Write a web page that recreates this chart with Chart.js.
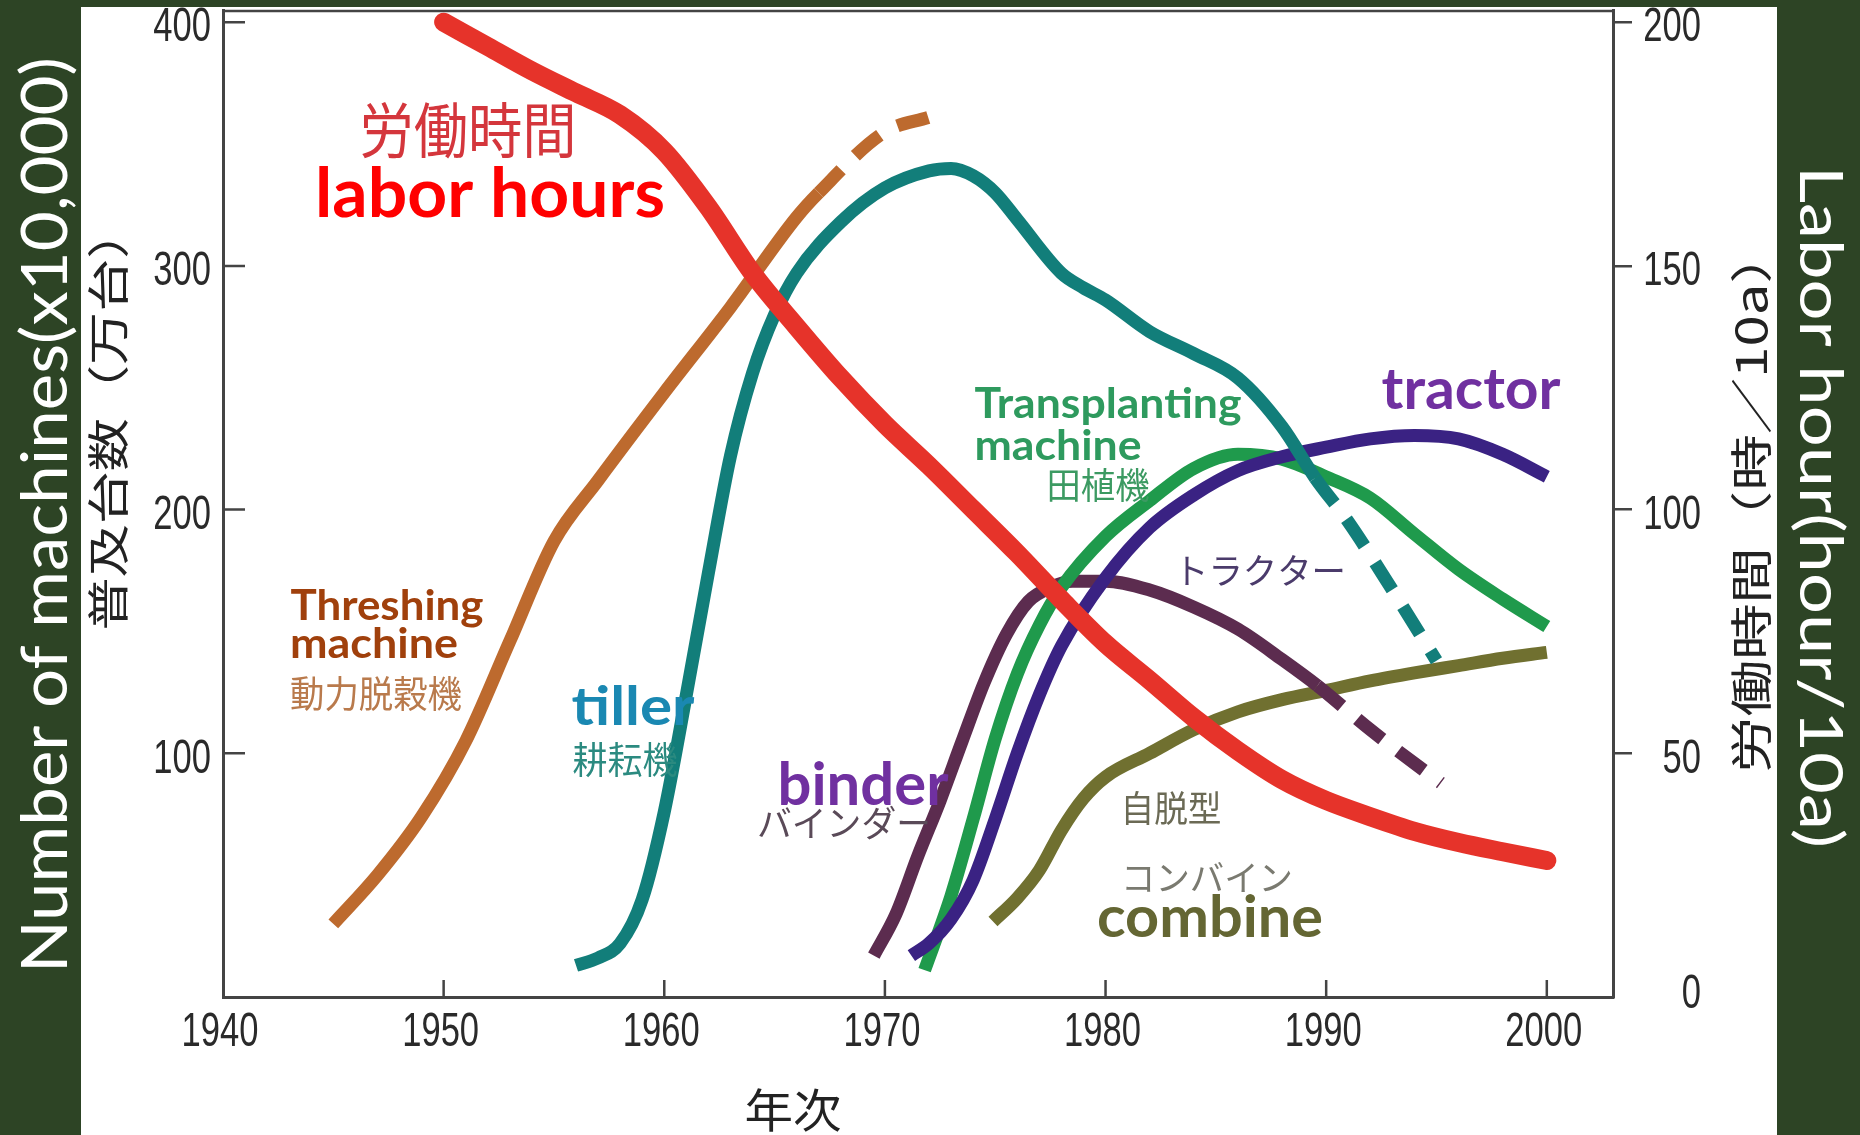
<!DOCTYPE html>
<html>
<head>
<meta charset="utf-8">
<title>Machines and labor hours</title>
<script src="https://cdn.jsdelivr.net/npm/chart.js@4.4.1/dist/chart.umd.min.js"></script>
<style>
body { margin: 0; background: #2d4425; overflow: hidden; }
canvas { display: block; }
</style>
</head>
<body>
<canvas id="mycanvas" width="1860" height="1135"></canvas>
<script>
// tick values
var xTicks = [1940, 1950, 1960, 1970, 1980, 1990, 2000];
var leftTicks = [100, 200, 300, 400];
var rightTicks = [0, 50, 100, 150, 200];

// labor hours (hour/10a), right axis
var laborYears = [1950, 1952, 1954, 1956, 1958, 1960, 1962, 1964, 1966, 1968, 1970, 1972, 1974, 1976, 1978, 1980, 1982, 1984, 1986, 1988, 1990, 1992, 1994, 1996, 1998, 2000];
var laborHours = [200, 195, 190, 185.5, 181, 173.5, 162, 148.5, 137.5, 127, 117.5, 109, 100, 91, 81.5, 72.5, 65, 57.3, 50.5, 44.6, 40.3, 37, 34, 31.7, 29.8, 28];

// machines (x10,000 units), left axis
var threshYears = [1945, 1947, 1949, 1951, 1953, 1955, 1957, 1960, 1963, 1966, 1967, 1970, 1972];
var threshCount = [30, 50, 74, 105, 146, 187, 212, 248, 283, 320, 330, 355, 361];
var threshDashFrom = 1967;

var tillerYears = [1956, 1957, 1958, 1959, 1960, 1961, 1962, 1963, 1964, 1965, 1966, 1968, 1970, 1972, 1973, 1974, 1975, 1976, 1978, 1979, 1980, 1982, 1984, 1986, 1988, 1989.5, 1991, 1993, 1995];
var tillerCount = [13, 16, 22, 40, 76, 124, 174, 222, 256, 280, 297, 318, 332, 339, 340, 337, 330, 319, 297, 291, 286, 273, 264, 254, 234, 213, 195, 167, 138];
var tillerDashFrom = 1989.5;

var binderYears = [1969.5, 1970.5, 1971.5, 1972.5, 1973.5, 1974.5, 1975.5, 1976.5, 1977.5, 1978.5, 1980, 1982, 1984, 1986, 1988, 1989.6, 1992, 1995.2];
var binderCount = [17, 34, 58, 80.5, 105, 129, 148.7, 162.3, 168, 170.6, 170.6, 167, 160, 151, 138.5, 127.8, 109.7, 87.8];
var binderDashFrom = 1989.6;

var transplantYears = [1971.8, 1973, 1974, 1975, 1976, 1977, 1978, 1980, 1982, 1984, 1986, 1988, 1990, 1992, 1994, 1996, 1998, 2000];
var transplantCount = [11, 41.6, 73, 106, 132.6, 152.6, 168, 189, 203.7, 216.9, 222.7, 220.7, 213.4, 204.7, 190, 175.5, 163.3, 152];

var tractorYears = [1971.2, 1972, 1973, 1974, 1975, 1976, 1977, 1978, 1980, 1982, 1984, 1986, 1988, 1990, 1992, 1994, 1996, 1998, 2000];
var tractorCount = [17, 22, 32, 48, 73, 100, 124, 144, 172, 192.6, 206, 216, 221.7, 225.6, 229, 230.4, 229, 222.7, 213.5];

var combineYears = [1974.9, 1976, 1977, 1978, 1979, 1980, 1982, 1984, 1986, 1988, 1990, 1992, 1994, 1996, 1998, 2000];
var combineCount = [31, 40.6, 52, 68.4, 81.5, 90.3, 100, 109.7, 117, 122, 125.8, 129.7, 133, 136, 139, 141.4];

function pts(xs, ys) {
	return xs.map(function(x, i){ return {x: x, y: ys[i]}; });
}
function dashAfter(from) {
	return function(c){ return c.p0.parsed.x >= from - 0.001 ? [32, 20] : undefined; };
}

var cjk = '"Noto Sans CJK JP"';

function fitText(ctx, txt, x, y, w, font, color, rot, base) {
	ctx.save();
	ctx.font = font;
	var m = ctx.measureText(txt).width;
	ctx.translate(x, y);
	if (rot) ctx.rotate(rot);
	ctx.scale(w / m, 1);
	ctx.fillStyle = color;
	ctx.textAlign = 'center';
	ctx.textBaseline = base || 'middle';
	ctx.fillText(txt, 0, 0);
	ctx.restore();
}

// condensed tick label, taken from the scale's own ticks
function tickText(ctx, txt, x, y, align) {
	ctx.save();
	ctx.translate(x, y);
	ctx.scale(0.72, 1);
	ctx.textAlign = align;
	ctx.fillText(txt, 0, 0);
	ctx.restore();
}

var notes = [
	['労働時間', 468, 130, 217, '400 60px ' + cjk, '#d4363c', 'middle'],
	['labor hours', 490, 217, 350, '700 68px Lato', '#ff0000', 'alphabetic'],
	['Threshing', 387, 620, 193, '700 42px Lato', '#a0400c', 'alphabetic'],
	['machine', 374, 658, 168, '700 42px Lato', '#a0400c', 'alphabetic'],
	['動力脱穀機', 376, 694, 172, '400 37px ' + cjk, '#b97a4c', 'middle'],
	['tiller', 633, 725, 123, '700 54px Lato', '#1a88b2', 'alphabetic'],
	['耕耘機', 625, 760, 105, '400 37px ' + cjk, '#2b8a80', 'middle'],
	['binder', 863, 805, 171, '700 60px Lato', '#7030a0', 'alphabetic'],
	['バインダー', 844, 823, 174, '400 36px ' + cjk, '#5a4a58', 'middle'],
	['Transplanting', 1108, 418, 267, '700 42px Lato', '#2e9a5e', 'alphabetic'],
	['machine', 1058, 460, 167, '700 42px Lato', '#2e9a5e', 'alphabetic'],
	['田植機', 1098, 485, 103, '400 36px ' + cjk, '#3c9a62', 'middle'],
	['tractor', 1471, 409, 179, '700 58px Lato', '#7030a0', 'alphabetic'],
	['トラクター', 1260, 571, 172, '400 35px ' + cjk, '#4b3b6b', 'middle'],
	['自脱型', 1171, 808, 101, '400 36px ' + cjk, '#6b6a55', 'middle'],
	['コンバイン', 1207, 878, 172, '400 35px ' + cjk, '#7a7a70', 'middle'],
	['combine', 1210, 937, 226, '700 58px Lato', '#646633', 'alphabetic']
];

var decor = {
	id: 'decor',
	beforeDraw: function(chart){
		var ctx = chart.ctx;
		ctx.save();
		ctx.fillStyle = '#2d4425';
		ctx.fillRect(0, 0, chart.width, chart.height);
		ctx.fillStyle = '#ffffff';
		ctx.fillRect(81, 7, 1696, 1128);
		ctx.restore();
	},
	afterDraw: function(chart){
		var ctx = chart.ctx, a = chart.chartArea;
		var xs = chart.scales.x, ys = chart.scales.y, ys2 = chart.scales.y2;
		ctx.save();
		ctx.strokeStyle = '#444';
		ctx.lineWidth = 2.5;
		ctx.beginPath();
		ctx.moveTo(a.left, a.top + 1);
		ctx.lineTo(a.right, a.top + 1);
		ys.ticks.forEach(function(t){
			var py = ys.getPixelForValue(t.value);
			ctx.moveTo(a.left, py);
			ctx.lineTo(a.left + 22, py);
		});
		xs.ticks.forEach(function(t){
			if (t.value === xs.min) return;
			var px = xs.getPixelForValue(t.value);
			ctx.moveTo(px, a.bottom);
			ctx.lineTo(px, a.bottom - 17);
		});
		ctx.stroke();

		ctx.font = '48px "Liberation Sans", Arial, sans-serif';
		ctx.fillStyle = '#2a2a2a';
		ctx.textBaseline = 'middle';
		xs.ticks.forEach(function(t){
			tickText(ctx, t.label, xs.getPixelForValue(t.value) - 3, a.bottom + 36, 'center');
		});
		ys.ticks.forEach(function(t){
			tickText(ctx, t.label, a.left - 12, ys.getPixelForValue(t.value) + 6, 'right');
		});
		ys2.ticks.forEach(function(t){
			tickText(ctx, t.label, a.right + 88, ys2.getPixelForValue(t.value) + (t.value === 0 ? -2 : 6), 'right');
		});
		ctx.restore();

		notes.forEach(function(n){
			fitText(ctx, n[0], n[1], n[2], n[3], n[4], n[5], 0, n[6]);
		});
		// axis titles
		fitText(ctx, 'Number of machines(x10,000)', 67, 515, 916, '400 64px Lato', '#ffffff', -Math.PI / 2, 'alphabetic');
		fitText(ctx, 'Labor hour(hour/10a)', 1800, 507, 682, '400 60px Lato', '#ffffff', Math.PI / 2, 'alphabetic');
		fitText(ctx, '普及台数（万台）', 108, 418, 425, '400 42px ' + cjk, '#222', -Math.PI / 2, 'middle');
		fitText(ctx, '労働時間（時／10a）', 1751, 500, 546, '400 42px ' + cjk, '#222', -Math.PI / 2, 'middle');
		fitText(ctx, '年次', 793, 1110, 97, '400 46px ' + cjk, '#222', 0, 'middle');
	}
};

var line = {tension: 0, cubicInterpolationMode: 'monotone', pointRadius: 0, fill: false, borderCapStyle: 'butt'};
function ds(label, data, color, width, axis, dashFrom) {
	var d = Object.assign({}, line, {label: label, data: data, borderColor: color, borderWidth: width, yAxisID: axis});
	if (dashFrom) d.segment = {borderDash: dashAfter(dashFrom)};
	return d;
}

var chartdata = {
	datasets: [
		Object.assign(ds('labor hours', pts(laborYears, laborHours), '#e6332a', 19, 'y2'), {borderCapStyle: 'round'}),
		ds('tiller', pts(tillerYears, tillerCount), '#127e7a', 13, 'y', tillerDashFrom),
		ds('tractor', pts(tractorYears, tractorCount), '#3a2283', 13, 'y'),
		ds('transplanting machine', pts(transplantYears, transplantCount), '#1f9a4c', 13, 'y'),
		ds('binder', pts(binderYears, binderCount), '#5c2c4f', 13, 'y', binderDashFrom),
		ds('combine', pts(combineYears, combineCount), '#707030', 13, 'y'),
		ds('threshing machine', pts(threshYears, threshCount), '#bd6a2e', 13, 'y', threshDashFrom)
	]
};

function asText(v){ return String(v); }

var ctx = document.getElementById('mycanvas');
var chart = new Chart(ctx, {
	type: 'line',
	data: chartdata,
	plugins: [decor],
	options: {
		responsive: false,
		animation: false,
		layout: {padding: {top: 10, left: 0, right: 160, bottom: 0}},
		plugins: {legend: {display: false}, tooltip: {enabled: false}},
		scales: {
			x: {
				type: 'linear', min: 1940, max: 2003,
				afterBuildTicks: function(s){ s.ticks = xTicks.map(function(v){ return {value: v}; }); },
				afterFit: function(s){ s.height = 138; s.paddingLeft = 0; s.paddingRight = 0; },
				grid: {display: false, drawTicks: false},
				border: {display: true, color: '#444', width: 3},
				ticks: {display: false, callback: asText}
			},
			y: {
				position: 'left', min: 0, max: 405,
				afterBuildTicks: function(s){ s.ticks = leftTicks.map(function(v){ return {value: v}; }); },
				afterFit: function(s){ s.width = 223; s.paddingTop = 0; s.paddingBottom = 0; },
				grid: {display: false, drawTicks: false},
				border: {display: true, color: '#444', width: 3},
				ticks: {display: false, callback: asText}
			},
			y2: {
				position: 'right', min: 0, max: 202.5,
				afterBuildTicks: function(s){ s.ticks = rightTicks.map(function(v){ return {value: v}; }); },
				afterFit: function(s){ s.width = 87; s.paddingTop = 0; s.paddingBottom = 0; },
				grid: {display: true, drawOnChartArea: false, drawTicks: true, tickLength: 19, lineWidth: 2.5,
					color: function(c){ return c.tick && c.tick.value === 0 ? 'rgba(0,0,0,0)' : '#444'; }},
				border: {display: true, color: '#444', width: 3},
				ticks: {display: false, callback: asText}
			}
		}
	}
});
</script>
</body>
</html>
